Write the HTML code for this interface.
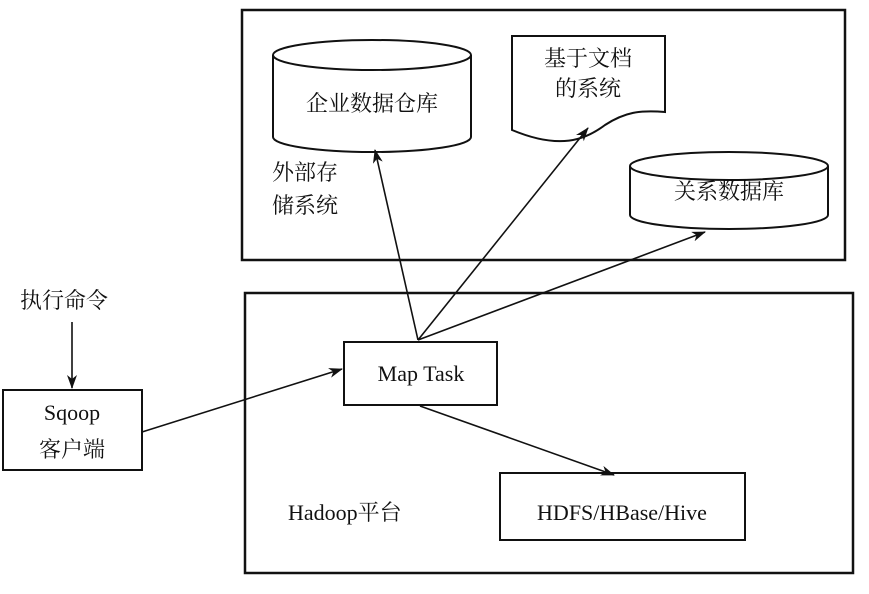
<!DOCTYPE html>
<html><head><meta charset="utf-8"><style>
html,body{margin:0;padding:0;background:#fff;}
svg text{font-family:"Liberation Serif","Noto Serif CJK SC","Noto Sans CJK SC",serif;fill:#111;}
</style></head><body>
<svg width="869" height="589" viewBox="0 0 869 589" xmlns="http://www.w3.org/2000/svg">
<defs><marker id="a" markerWidth="14" markerHeight="10" refX="13" refY="5" orient="auto" markerUnits="userSpaceOnUse"><path d="M0,0 L14,5 L0,10 L4,5 Z" fill="#111"/></marker></defs>
<g stroke="#111" stroke-width="2.5" fill="none">
<rect x="242" y="10" width="603" height="250"/>
<rect x="245" y="293" width="608" height="280"/>
</g>
<g stroke="#111" stroke-width="2" fill="#fff">
<path d="M273,55 L273,137 A99,15 0 0 0 471,137 L471,55"/>
<ellipse cx="372" cy="55" rx="99" ry="15"/>
<path d="M512,36 L665,36 L665,112 C640,110 625,112 605,125 C585,140 560,150 512,130 Z"/>
<path d="M630,166 L630,215 A99,14 0 0 0 828,215 L828,166"/>
<ellipse cx="729" cy="166" rx="99" ry="14"/>
<rect x="344" y="342" width="153" height="63"/>
<rect x="3" y="390" width="139" height="80"/>
<rect x="500" y="473" width="245" height="67"/>
</g>
<g stroke="#111" stroke-width="1.6" fill="none" marker-end="url(#a)">
<line x1="418" y1="340" x2="375" y2="150"/>
<line x1="418" y1="340" x2="588" y2="128"/>
<line x1="418" y1="340" x2="705" y2="232"/>
<line x1="72" y1="322" x2="72" y2="388"/>
<line x1="142" y1="432" x2="342" y2="369"/>
<line x1="420" y1="406" x2="614" y2="475"/>
</g>
<g font-size="22">
<text x="372" y="111" text-anchor="middle">企业数据仓库</text>
<text x="588" y="66" text-anchor="middle">基于文档</text>
<text x="588" y="96" text-anchor="middle">的系统</text>
<text x="729" y="199" text-anchor="middle">关系数据库</text>
<text x="272" y="180">外部存</text>
<text x="272" y="213">储系统</text>
<text x="20" y="308">执行命令</text>
<text x="72" y="420" text-anchor="middle">Sqoop</text>
<text x="72" y="457" text-anchor="middle">客户端</text>
<text x="421" y="381" text-anchor="middle">Map Task</text>
<text x="288" y="520">Hadoop平台</text>
<text x="622" y="520" text-anchor="middle">HDFS/HBase/Hive</text>
</g>
</svg>
</body></html>
